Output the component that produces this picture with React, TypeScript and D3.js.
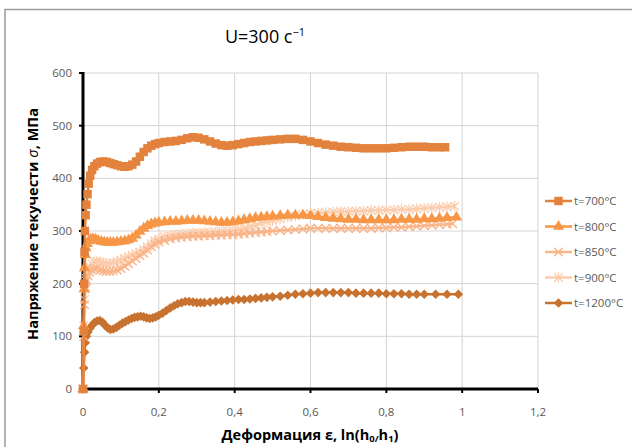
import React from "react";
import * as d3 from "d3";

const series700: [number, number][] = [
  [0,0],[0.002,110],[0.003,200],[0.004,260],[0.005,300],[0.007,330],[0.009,350],[0.012,370],[0.015,390],[0.019,405],[0.024,416],[0.03,423],[0.037,428],[0.045,431],[0.054,432],[0.063,431],[0.072,429],[0.081,427],[0.09,425],[0.1,423],[0.11,422],[0.12,423],[0.13,426],[0.14,432],[0.15,441],[0.16,450],[0.17,457],[0.18,462],[0.19,465],[0.2,467],[0.215,469],[0.23,470],[0.245,471],[0.26,473],[0.275,476],[0.29,478],[0.305,477],[0.32,474],[0.335,470],[0.35,466],[0.365,463],[0.38,462],[0.395,463],[0.41,465],[0.425,467],[0.44,469],[0.455,470],[0.47,471],[0.485,472],[0.5,473],[0.52,474],[0.54,475],[0.56,475],[0.58,473],[0.6,470],[0.62,467],[0.64,464],[0.66,462],[0.68,460],[0.7,459],[0.72,458],[0.74,457],[0.76,457],[0.78,457],[0.8,457],[0.82,458],[0.84,459],[0.86,460],[0.88,460],[0.9,460],[0.92,459],[0.94,459],[0.955,459]
];

const series800: [number, number][] = [
  [0,0],[0.002,120],[0.003,190],[0.004,230],[0.006,255],[0.008,268],[0.011,276],[0.015,281],[0.02,284],[0.026,285],[0.033,284],[0.04,282],[0.048,280],[0.056,279],[0.064,278],[0.072,278],[0.08,278],[0.09,279],[0.1,280],[0.11,281],[0.12,283],[0.13,286],[0.14,292],[0.15,299],[0.16,305],[0.17,310],[0.18,313],[0.19,315],[0.2,316],[0.215,317],[0.23,318],[0.245,318],[0.26,319],[0.275,320],[0.29,320],[0.305,320],[0.32,319],[0.335,318],[0.35,317],[0.365,316],[0.38,316],[0.395,317],[0.41,319],[0.425,321],[0.44,323],[0.455,325],[0.47,326],[0.485,327],[0.5,328],[0.52,329],[0.54,330],[0.56,330],[0.58,330],[0.6,329],[0.62,327],[0.64,325],[0.66,324],[0.68,323],[0.7,322],[0.72,322],[0.74,321],[0.76,321],[0.78,321],[0.8,321],[0.82,321],[0.84,322],[0.86,322],[0.88,322],[0.9,323],[0.92,323],[0.94,324],[0.96,325],[0.985,326]
];

const series850: [number, number][] = [
  [0,0],[0.002,100],[0.004,160],[0.006,190],[0.009,205],[0.013,215],[0.018,222],[0.024,226],[0.03,228],[0.037,228],[0.045,226],[0.053,224],[0.061,223],[0.07,223],[0.08,224],[0.09,226],[0.1,229],[0.11,233],[0.12,238],[0.13,243],[0.14,248],[0.15,253],[0.16,258],[0.17,264],[0.18,270],[0.19,275],[0.2,279],[0.215,282],[0.23,285],[0.245,287],[0.26,288],[0.275,289],[0.29,290],[0.305,290],[0.32,291],[0.335,291],[0.35,292],[0.365,292],[0.38,293],[0.395,293],[0.41,294],[0.425,295],[0.44,296],[0.455,297],[0.47,298],[0.485,299],[0.5,300],[0.52,301],[0.54,302],[0.56,303],[0.58,304],[0.6,305],[0.62,305],[0.64,305],[0.66,305],[0.68,305],[0.7,305],[0.72,305],[0.74,305],[0.76,305],[0.78,306],[0.8,306],[0.82,307],[0.84,307],[0.86,308],[0.88,309],[0.9,310],[0.92,311],[0.94,312],[0.96,313],[0.975,314]
];

const series900: [number, number][] = [
  [0,0],[0.002,120],[0.004,170],[0.006,195],[0.009,210],[0.013,222],[0.018,232],[0.024,238],[0.03,241],[0.037,242],[0.045,241],[0.053,239],[0.061,238],[0.07,238],[0.08,240],[0.09,242],[0.1,245],[0.11,248],[0.12,251],[0.13,254],[0.14,257],[0.15,260],[0.16,265],[0.17,270],[0.18,276],[0.19,281],[0.2,285],[0.215,289],[0.23,291],[0.245,293],[0.26,294],[0.275,295],[0.29,296],[0.305,296],[0.32,297],[0.335,297],[0.35,298],[0.365,299],[0.38,300],[0.395,301],[0.41,303],[0.425,305],[0.44,308],[0.455,311],[0.47,315],[0.485,318],[0.5,320],[0.52,323],[0.54,326],[0.56,329],[0.58,331],[0.6,333],[0.62,334],[0.64,335],[0.66,336],[0.68,337],[0.7,337],[0.72,338],[0.74,338],[0.76,339],[0.78,339],[0.8,340],[0.82,340],[0.84,341],[0.86,341],[0.88,342],[0.9,343],[0.92,344],[0.94,345],[0.96,346],[0.98,347]
];

const series1200: [number, number][] = [
  [0,0],[0.002,40],[0.004,70],[0.006,88],[0.009,100],[0.013,108],[0.018,115],[0.024,121],[0.03,126],[0.037,129],[0.044,130],[0.051,127],[0.058,121],[0.065,116],[0.072,113],[0.08,114],[0.088,117],[0.096,121],[0.104,125],[0.112,128],[0.12,131],[0.128,134],[0.136,136],[0.144,137],[0.152,138],[0.16,137],[0.168,135],[0.176,134],[0.184,135],[0.192,137],[0.2,140],[0.21,144],[0.22,149],[0.23,154],[0.24,158],[0.25,162],[0.26,164],[0.27,166],[0.28,166],[0.29,165],[0.3,164],[0.31,164],[0.32,164],[0.335,165],[0.35,166],[0.365,167],[0.38,168],[0.395,169],[0.41,170],[0.425,170],[0.44,171],[0.455,172],[0.47,173],[0.485,174],[0.5,175],[0.52,176],[0.54,178],[0.56,180],[0.58,181],[0.6,182],[0.62,183],[0.64,183],[0.66,183],[0.68,183],[0.7,183],[0.72,182],[0.74,182],[0.76,182],[0.78,182],[0.8,181],[0.82,181],[0.84,181],[0.86,180],[0.88,180],[0.9,180],[0.93,180],[0.96,180],[0.99,180]
];

const seriesNames = ["t=700°C", "t=800°C", "t=850°C", "t=900°C", "t=1200°C"];
const xTicks = [0, 0.2, 0.4, 0.6, 0.8, 1, 1.2];
const yTicks = [0, 100, 200, 300, 400, 500, 600];

const colors = ["#E3823C", "#F79646", "#F9B488", "#FBCDAE", "#C8722F"];
const markerKinds = ["square", "triangle", "x", "star", "diamond"];
const allSeries = [series700, series800, series850, series900, series1200];

const W = 632, H = 447;
const x = d3.scaleLinear().domain([0, 1.2]).range([83, 538]);
const y = d3.scaleLinear().domain([0, 600]).range([389, 73]);
const FONT = "'Open Sans', 'Noto Sans', sans-serif";

function Marker({ kind, cx, cy, color }: { kind: string; cx: number; cy: number; color: string }) {
  if (kind === "square") {
    return <path d={d3.symbol(d3.symbolSquare, 72)()!} transform={`translate(${cx},${cy})`} fill={color} />;
  }
  if (kind === "triangle") {
    return <path d={d3.symbol(d3.symbolTriangle, 56)()!} transform={`translate(${cx},${cy})`} fill={color} />;
  }
  if (kind === "diamond") {
    return <path d={d3.symbol(d3.symbolSquare, 46)()!} transform={`translate(${cx},${cy}) rotate(45)`} fill={color} />;
  }
  const r = 4.3;
  if (kind === "x") {
    return (
      <path d={`M${-r},${-r}L${r},${r}M${-r},${r}L${r},${-r}`} transform={`translate(${cx},${cy})`} stroke={color} strokeWidth={1.4} fill="none" />
    );
  }
  return (
    <path d={`M${-r},${-r}L${r},${r}M${-r},${r}L${r},${-r}M0,${-r - 1}L0,${r + 1}`} transform={`translate(${cx},${cy})`} stroke={color} strokeWidth={1.3} fill="none" />
  );
}

export default function App() {
  const line = d3.line<[number, number]>().x((d) => x(d[0])).y((d) => y(d[1]));
  const legendY = [201, 226.5, 252, 277.5, 303];
  const drawOrder = [4, 3, 2, 1, 0];
  return (
    <svg width={W} height={H} style={{ position: "absolute", left: 0, top: 0, background: "#fff" }}>
      <rect x={0} y={0} width={W} height={H} fill="#fff" />
      <path d={`M5,${H}L5,9.5L${W},9.5`} stroke="#9a9a9a" strokeWidth={1.5} fill="none" />
      <text x={265} y={43} textAnchor="middle" fontFamily={FONT} fontSize={18} fill="#000">
        U=300 с<tspan dy={-7} fontSize={11}>−1</tspan>
      </text>
      {/* grid */}
      {yTicks.slice(1).map((t) => (
        <line key={"gy" + t} x1={x(0)} x2={x(1.2)} y1={y(t)} y2={y(t)} stroke="#D4D4D4" strokeWidth={1} />
      ))}
      {xTicks.slice(1).map((t) => (
        <line key={"gx" + t} x1={x(t)} x2={x(t)} y1={y(600)} y2={y(0)} stroke="#D4D4D4" strokeWidth={1} />
      ))}
      {/* axes */}
      <line x1={x(0)} x2={x(0)} y1={y(600) - 1} y2={y(0)} stroke="#000" strokeWidth={3} />
      <line x1={x(0)} x2={x(1.2)} y1={y(0)} y2={y(0)} stroke="#000" strokeWidth={3} />
      {yTicks.map((t) => (
        <line key={"ty" + t} x1={x(0) - 4} x2={x(0)} y1={y(t)} y2={y(t)} stroke="#000" strokeWidth={2} />
      ))}
      {xTicks.map((t) => (
        <line key={"tx" + t} x1={x(t)} x2={x(t)} y1={y(0)} y2={y(0) + 4} stroke="#000" strokeWidth={2} />
      ))}
      {yTicks.map((t) => (
        <text key={"ly" + t} x={72} y={y(t) + 4} textAnchor="end" fontFamily={FONT} fontSize={11.5} fill="#595959">
          {t}
        </text>
      ))}
      {xTicks.map((t) => (
        <text key={"lx" + t} x={x(t)} y={416} textAnchor="middle" fontFamily={FONT} fontSize={11.5} fill="#595959">
          {String(t).replace(".", ",")}
        </text>
      ))}
      {/* series */}
      {drawOrder.map((i) => (
        <g key={"s" + i}>
          <path d={line(allSeries[i])!} stroke={colors[i]} strokeWidth={2.5} fill="none" />
          {allSeries[i].map((d, j) => (
            <Marker key={j} kind={markerKinds[i]} cx={x(d[0])} cy={y(d[1])} color={colors[i]} />
          ))}
        </g>
      ))}
      {/* legend */}
      {seriesNames.map((n, i) => (
        <g key={"lg" + i}>
          <line x1={545} x2={572} y1={legendY[i]} y2={legendY[i]} stroke={colors[i]} strokeWidth={2.5} />
          <Marker kind={markerKinds[i]} cx={558.5} cy={legendY[i]} color={colors[i]} />
          <text x={574} y={legendY[i] + 4} fontFamily={FONT} fontSize={11.5} fill="#595959">
            {n}
          </text>
        </g>
      ))}
      {/* axis titles */}
      <text transform={`translate(38,224) rotate(-90)`} textAnchor="middle" fontFamily={FONT} fontSize={14.5} fontWeight="bold" fill="#000">
        Напряжение текучести <tspan fontStyle="italic" fontWeight="normal">σ</tspan>, МПа
      </text>
      <text x={310} y={440} textAnchor="middle" fontFamily={FONT} fontSize={14.5} fontWeight="bold" fill="#000">
        Деформация ε, ln(h<tspan fontSize={9.5} dy={2}>0/</tspan><tspan dy={-2}>h</tspan><tspan fontSize={9.5} dy={2}>1</tspan><tspan dy={-2}>)</tspan>
      </text>
    </svg>
  );
}
